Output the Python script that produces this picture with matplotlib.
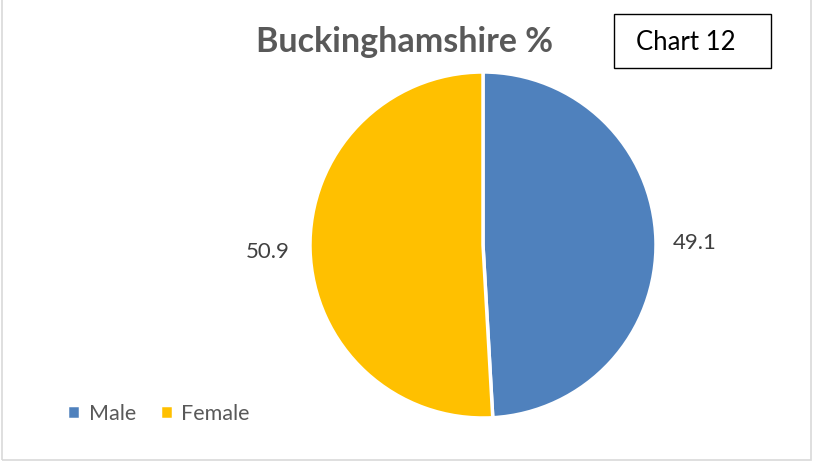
import matplotlib.pyplot as plt
from matplotlib.patches import Rectangle

plt.rcParams['font.family'] = ['Lato', 'DejaVu Sans']

labels = ['Male', 'Female']
values = [49.1, 50.9]
colors = ['#4F81BD', '#FFC000']
title = 'Buckinghamshire %'
W, H = 813, 462

fig = plt.figure(figsize=(W / 100, H / 100), dpi=100)
ax = fig.add_axes([0, 0, 1, 1])

wedges, _ = ax.pie(values, colors=colors, startangle=90, counterclock=False,
                   center=(483, H - 245), radius=173,
                   wedgeprops=dict(edgecolor='white', linewidth=2.5))
ax.set_xlim(0, W)
ax.set_ylim(0, H)
ax.axis('off')

# value labels outside the pie
ax.text(695, H - 243, f'{values[0]:.1f}', ha='center', va='center', fontsize=16, color='#404040')
ax.text(268, H - 252, f'{values[1]:.1f}', ha='center', va='center', fontsize=16, color='#404040')

ax.text(404, H - 42, title, ha='center', va='center', fontsize=24.5, fontweight='bold', color='#595959')

# "Chart 12" box
ax.add_patch(Rectangle((614, H - 68), 157, 54, facecolor='white', edgecolor='black', linewidth=1))
ax.text(686, H - 42, 'Chart 12', ha='center', va='center', fontsize=18.5, color='black')

# legend
ax.legend(wedges, labels, loc='lower left', bbox_to_anchor=(48 / W, (H - 443) / H),
          ncol=2, frameon=False, fontsize=15.5, handlelength=0.6, handleheight=0.6,
          handletextpad=0.4, columnspacing=1.1, labelcolor='#595959')

# outer chart border
ax.add_patch(Rectangle((2, 2), 809, H, fill=False, edgecolor='#D9D9D9', linewidth=1.2))

fig.savefig('out.png', dpi=100)
